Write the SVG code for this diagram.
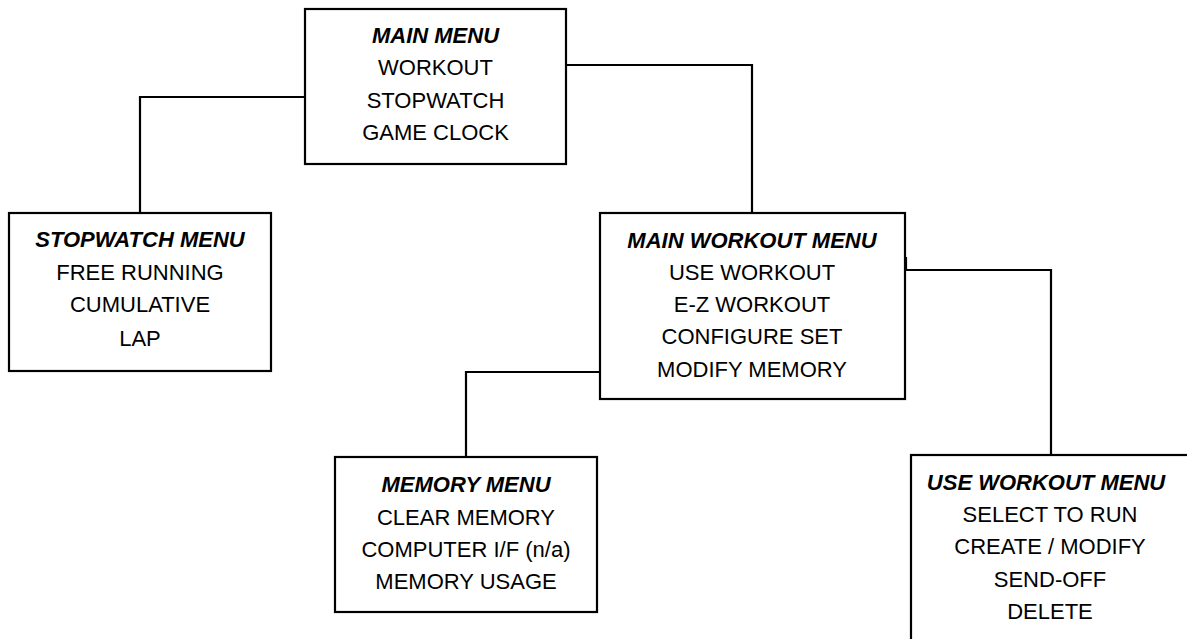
<svg xmlns="http://www.w3.org/2000/svg" width="1187" height="639" viewBox="0 0 1187 639">
<style>
.box{fill:#fff;stroke:#000;stroke-width:2.2}
.ln{fill:none;stroke:#000;stroke-width:2.2}
text{font-family:"Liberation Sans",Arial,sans-serif;font-size:22px;fill:#000;text-anchor:middle}
.t{font-weight:bold;font-style:italic}
</style>
<rect width="1187" height="639" fill="#fff"/>
<g id="connectors">
<path class="ln" d="M305,97 H140 V213"/>
<path class="ln" d="M566,65 H752 V213"/>
<path class="ln" d="M906,257 V270 H1051 V455"/>
<path class="ln" d="M600,372 H466 V457"/>
</g>
<g id="main-menu">
<rect class="box" x="305" y="9" width="261" height="155"/>
<text class="t" x="435.5" y="43">MAIN MENU</text>
<text x="435.5" y="75">WORKOUT</text>
<text x="435.5" y="108">STOPWATCH</text>
<text x="435.5" y="140">GAME CLOCK</text>
</g>
<g id="stopwatch-menu">
<rect class="box" x="9" y="213" width="262" height="158"/>
<text class="t" x="140" y="247">STOPWATCH MENU</text>
<text x="140" y="280">FREE RUNNING</text>
<text x="140" y="312">CUMULATIVE</text>
<text x="140" y="346">LAP</text>
</g>
<g id="main-workout-menu">
<rect class="box" x="600" y="213" width="305" height="186"/>
<text class="t" x="752" y="248">MAIN WORKOUT MENU</text>
<text x="752" y="280">USE WORKOUT</text>
<text x="752" y="312">E-Z WORKOUT</text>
<text x="752" y="344">CONFIGURE SET</text>
<text x="752" y="377">MODIFY MEMORY</text>
</g>
<g id="memory-menu">
<rect class="box" x="335" y="457" width="262" height="155"/>
<text class="t" x="466" y="492">MEMORY MENU</text>
<text x="466" y="525">CLEAR MEMORY</text>
<text x="466" y="557">COMPUTER I/F (n/a)</text>
<text x="466" y="589">MEMORY USAGE</text>
</g>
<g id="use-workout-menu">
<rect class="box" x="911" y="455" width="280" height="200"/>
<text class="t" x="1046" y="490">USE WORKOUT MENU</text>
<text x="1050" y="522">SELECT TO RUN</text>
<text x="1050" y="554">CREATE / MODIFY</text>
<text x="1050" y="587">SEND-OFF</text>
<text x="1050" y="619">DELETE</text>
</g>
</svg>
